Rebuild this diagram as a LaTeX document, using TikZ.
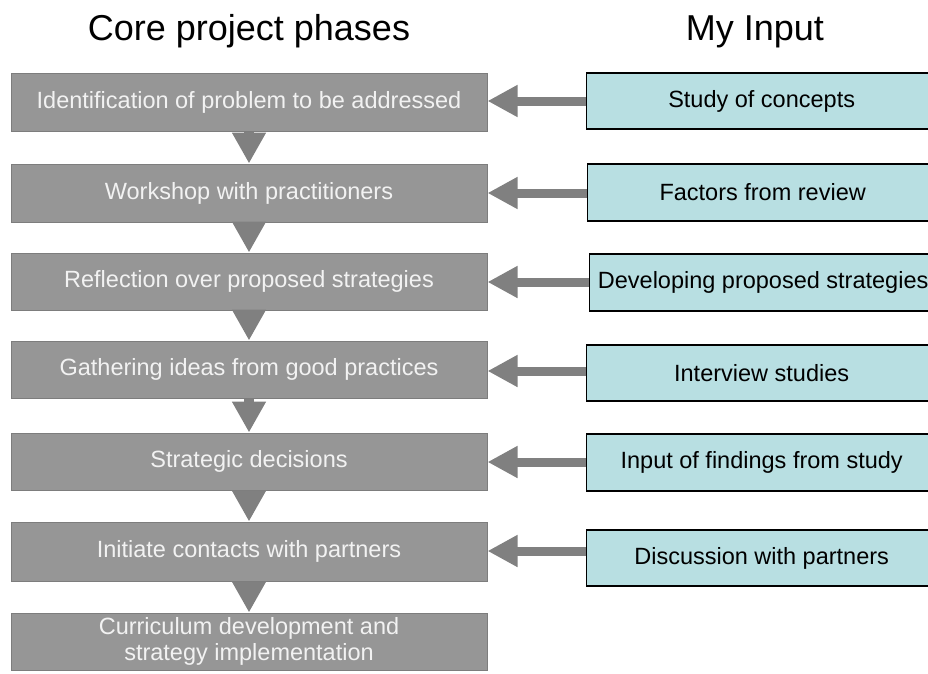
\documentclass[tikz,border=0pt]{standalone}
\usepackage{fontspec}
\setmainfont{Liberation Sans}
\usetikzlibrary{arrows.meta}
\definecolor{phasefill}{RGB}{150,150,150}
\definecolor{phasedraw}{RGB}{125,125,125}
\definecolor{phasetext}{RGB}{242,242,242}
\definecolor{inputfill}{RGB}{184,223,226}
\definecolor{arrowgray}{RGB}{128,128,128}
\tikzset{
  phase/.style={draw=phasedraw, line width=1pt, fill=phasefill, text=phasetext,
    minimum width=476pt, inner sep=0pt, align=center,
    font=\fontsize{23.5}{26}\selectfont},
  inputbox/.style={draw=black, line width=1.3pt, fill=inputfill, text=black,
    minimum width=350pt, inner sep=0pt, align=center,
    font=\fontsize{23.5}{26}\selectfont},
  heading/.style={font=\fontsize{36}{40}\selectfont, inner sep=0pt, anchor=base},
  downarrow/.style={draw=arrowgray, line width=10pt,
    -{Triangle[length=31pt,width=32pt]}},
  leftarrow/.style={draw=arrowgray, line width=9pt,
    -{Triangle[length=30pt,width=30pt]}}
}
\begin{document}
\begin{tikzpicture}[x=1pt,y=-1pt]
\clip (0,0) rectangle (928,673);
\fill[white] (0,0) rectangle (928,673);
% headings
\node[heading] (t1) at (249,40) {Core project phases};
\node[heading] (t2) at (755,40) {My Input};
% phases
\node[phase, minimum height=58pt] (g1) at (249,102) {Identification of problem to be addressed};
\node[phase, minimum height=58pt] (g2) at (249,193) {Workshop with practitioners};
\node[phase, minimum height=57pt] (g3) at (249,281.5) {Reflection over proposed strategies};
\node[phase, minimum height=57pt] (g4) at (249,369.5) {Gathering ideas from good practices};
\node[phase, minimum height=57pt] (g5) at (249,461.5) {Strategic decisions};
\node[phase, minimum height=59pt] (g6) at (249,551.5) {Initiate contacts with partners};
\node[phase, minimum height=57pt] (g7) at (249,641.5) {Curriculum development and\\strategy implementation};
% inputs
\node[inputbox, minimum height=56pt, anchor=west] (b1) at (586,101) {Study of concepts};
\node[inputbox, minimum height=57pt, anchor=west] (b2) at (587,192.5) {Factors from review};
\node[inputbox, minimum height=57pt, minimum width=347pt, anchor=west] (b3) at (589,282.5) {Developing proposed strategies};
\node[inputbox, minimum height=56pt, anchor=west] (b4) at (586,373) {Interview studies};
\node[inputbox, minimum height=57pt, anchor=west] (b5) at (586,462.5) {Input of findings from study};
\node[inputbox, minimum height=56pt, anchor=west] (b6) at (586,558) {Discussion with partners};
% down arrows
\foreach \a/\b in {g1/g2,g2/g3,g3/g4,g4/g5,g5/g6,g6/g7}
  \draw[downarrow] (\a.south) -- (\b.north);
% left arrows
\draw[leftarrow] (b1.west |- 0,101) -- (g1.east |- 0,101);
\draw[leftarrow] (b2.west |- 0,193) -- (g2.east |- 0,193);
\draw[leftarrow] (b3.west |- 0,282) -- (g3.east |- 0,282);
\draw[leftarrow] (b4.west |- 0,371) -- (g4.east |- 0,371);
\draw[leftarrow] (b5.west |- 0,462) -- (g5.east |- 0,462);
\draw[leftarrow] (b6.west |- 0,551) -- (g6.east |- 0,551);
\end{tikzpicture}
\end{document}
